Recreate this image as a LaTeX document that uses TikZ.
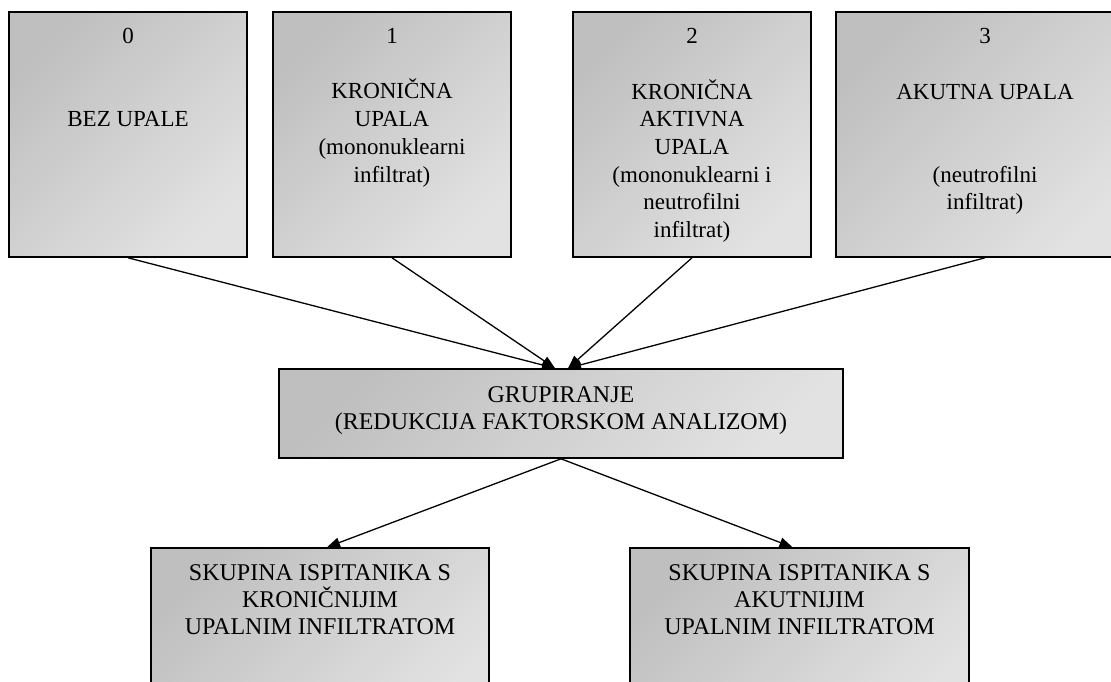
\documentclass[tikz,border=0pt]{standalone}
\usepackage{fontspec}
\setmainfont{Liberation Serif}
\usetikzlibrary{positioning,arrows.meta}
\definecolor{boxdark}{gray}{0.75}
\definecolor{boxlight}{gray}{0.885}
\tikzset{
  box/.style={draw,line width=1.6pt,inner sep=0pt,top color=boxdark,bottom color=boxlight,shading angle=45},
  topbox/.style={box,minimum width=238pt,minimum height=245pt},
  txt/.style={align=center,inner sep=0pt,font=\fontsize{23}{27.7}\selectfont},
  bigtxt/.style={txt,font=\fontsize{24}{27.2}\selectfont},
  arr/.style={->,line width=1.3pt}
}
\begin{document}
\begin{tikzpicture}[x=1pt,y=-1pt,>={Triangle[length=13pt,width=10pt]}]
\useasboundingbox (0,0) rectangle (1111,681);
\clip (0,0) rectangle (1111,681);
\node[topbox] (b0) at (128,134.5) {};
\node[topbox] (b1) at (392,134.5) {};
\node[topbox] (b2) at (692,134.5) {};
\node[topbox,minimum width=298pt] (b3) at (985,134.5) {};
\node[box,minimum width=564pt,minimum height=89pt] (mid) at (561,413.5) {};
\node[box,minimum width=338pt,minimum height=172pt] (bl) at (320,634) {};
\node[box,minimum width=339pt,minimum height=172pt] (br) at (799.5,634) {};
\node[txt,below=17pt of b0.north] (t0) {0\\[55.4pt]BEZ UPALE};
\node[txt,below=17pt of b1.north] (t1) {1\\[27.7pt]KRONIČNA\\UPALA\\(mononuklearni\\infiltrat)};
\node[txt,below=17pt of b2.north] (t2) {2\\[27.7pt]KRONIČNA\\AKTIVNA\\UPALA\\(mononuklearni i\\neutrofilni\\infiltrat)};
\node[txt,below=17pt of b2.north-|b3.south] (t3) {3\\[27.7pt]AKUTNA UPALA\\[55.4pt](neutrofilni\\infiltrat)};
\node[bigtxt,below=18pt of mid.north] (tm) {GRUPIRANJE\\(REDUKCIJA FAKTORSKOM ANALIZOM)};
\node[bigtxt,below=17pt of bl.north] (tl) {SKUPINA ISPITANIKA S\\KRONIČNIJIM\\UPALNIM INFILTRATOM};
\node[bigtxt,below=17pt of br.north] (tr) {SKUPINA ISPITANIKA S\\AKUTNIJIM\\UPALNIM INFILTRATOM};
\coordinate (inL) at ([xshift=-6pt]mid.north);
\coordinate (inR) at ([xshift=7pt]mid.north);
\draw[arr] (b0.south)--(inL);
\draw[arr] (b1.south)--(inL);
\draw[arr] (b2.south)--(inR);
\draw[arr] (b3.south)--(inR);
\draw[arr] (mid.south)--([xshift=7pt]bl.north);
\draw[arr] (mid.south)--([xshift=-7pt]br.north);
\end{tikzpicture}
\end{document}
